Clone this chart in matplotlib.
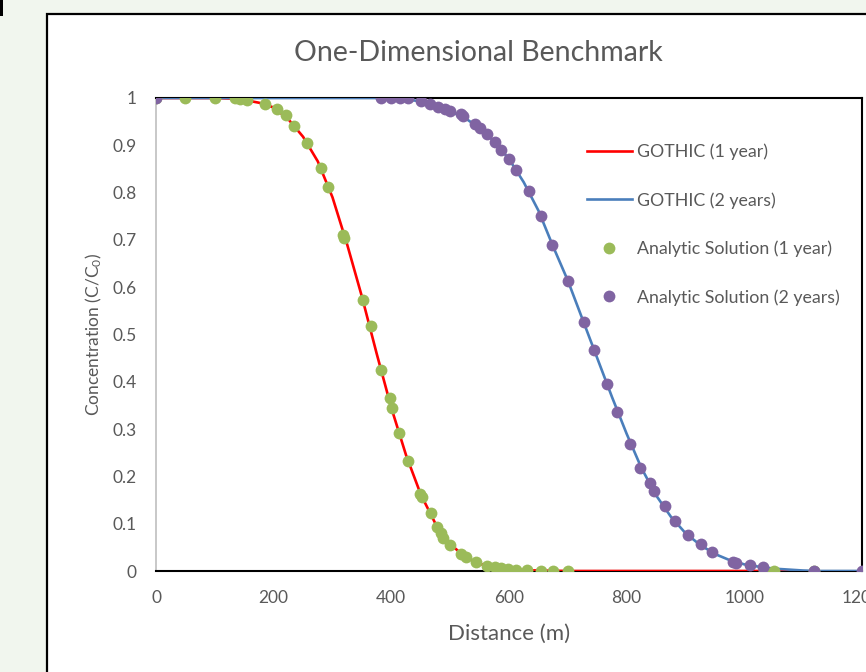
import matplotlib
matplotlib.use("Agg")
import matplotlib.pyplot as plt
from matplotlib.patches import Rectangle

plt.rcParams['font.family'] = ['Lato', 'DejaVu Sans']
plt.rcParams['mathtext.fontset'] = 'custom'
plt.rcParams['mathtext.rm'] = 'Lato'
plt.rcParams['mathtext.it'] = 'Lato'

# GOTHIC results (distance in m, C/C0)
gothic_1yr_x = [0, 50, 100, 125, 150, 175, 200, 225, 250, 275, 300, 325, 350, 375, 400,
                425, 450, 475, 500, 525, 550, 575, 600, 625, 650, 700, 800, 900, 1000, 1080]
gothic_1yr_c = [1.0, 1.0, 1.0, 0.999, 0.996, 0.99, 0.98, 0.955, 0.918, 0.866, 0.79, 0.69,
                0.58, 0.46, 0.345, 0.245, 0.162, 0.1, 0.057, 0.03, 0.015, 0.008, 0.004,
                0.002, 0.001, 0.0, 0.0, 0.0, 0.0, 0.0]

gothic_2yr_x = [0, 100, 200, 300, 375, 400, 425, 450, 475, 500, 525, 550, 575, 600, 625,
                650, 675, 700, 725, 750, 775, 800, 825, 850, 875, 900, 925, 950, 975,
                1000, 1025, 1050, 1075, 1100, 1125, 1200]
gothic_2yr_c = [1.0, 1.0, 1.0, 1.0, 1.0, 0.999, 0.997, 0.993, 0.983, 0.972, 0.958, 0.936,
                0.908, 0.871, 0.822, 0.762, 0.686, 0.614, 0.532, 0.45, 0.368, 0.29, 0.218,
                0.16, 0.115, 0.08, 0.055, 0.036, 0.023, 0.014, 0.009, 0.005, 0.003, 0.001,
                0.0, 0.0]

# analytic solution
analytic_1yr_x = [0, 50, 100, 134, 143, 154, 186, 205, 221, 234, 257, 281, 292, 318, 320,
                  351, 365, 383, 397, 401, 413, 428, 449, 452, 467, 478, 484, 488, 500,
                  519, 527, 544, 562, 576, 587, 598, 612, 631, 655, 675, 700, 1034, 1051,
                  1118]
analytic_1yr_c = [1.0, 1.0, 1.0, 1.0, 0.997, 0.996, 0.987, 0.977, 0.964, 0.941, 0.905,
                  0.853, 0.811, 0.71, 0.703, 0.573, 0.518, 0.424, 0.366, 0.345, 0.292,
                  0.233, 0.163, 0.157, 0.122, 0.092, 0.08, 0.069, 0.056, 0.035, 0.03,
                  0.018, 0.011, 0.008, 0.006, 0.004, 0.003, 0.002, 0.001, 0.0, 0.0, 0.0,
                  0.0, 0.0]

analytic_2yr_x = [0, 383, 400, 414, 428, 451, 465, 479, 491, 499, 519, 521, 542, 550, 562,
                  576, 587, 600, 612, 634, 655, 673, 700, 727, 744, 766, 784, 806, 823,
                  840, 847, 865, 883, 904, 926, 945, 980, 986, 1010, 1032, 1118, 1200]
analytic_2yr_c = [1.0, 1.0, 1.0, 1.0, 1.0, 0.994, 0.987, 0.982, 0.977, 0.973, 0.966, 0.962,
                  0.946, 0.937, 0.924, 0.908, 0.89, 0.871, 0.848, 0.804, 0.75, 0.689, 0.614,
                  0.527, 0.467, 0.395, 0.336, 0.268, 0.218, 0.186, 0.169, 0.137, 0.106,
                  0.077, 0.058, 0.04, 0.02, 0.016, 0.013, 0.009, 0.0, 0.0]

fig = plt.figure(figsize=(8.66, 6.72), dpi=100)
fig.patch.set_facecolor('#f1f6ee')

# chart panel
fig.add_artist(Rectangle((47 / 866, -0.05), 1.0, 1 - 14 / 672 + 0.05,
                         transform=fig.transFigure, facecolor='white',
                         edgecolor='black', linewidth=1.6, zorder=0))
fig.add_artist(Rectangle((0, 1 - 16 / 672), 3 / 866, 16 / 672,
                         transform=fig.transFigure, facecolor='black',
                         edgecolor='none', zorder=0))

ax = fig.add_axes([156 / 866, 1 - 571 / 672, 706 / 866, 473 / 672])
ax.set_facecolor('none')

ax.plot(gothic_1yr_x, gothic_1yr_c, color='#ff0000', linewidth=1.9,
        label='GOTHIC (1 year)', zorder=2)
ax.plot(gothic_2yr_x, gothic_2yr_c, color='#4a7ebb', linewidth=1.9,
        label='GOTHIC (2 years)', zorder=3)
ax.plot(analytic_1yr_x, analytic_1yr_c, linestyle='none', marker='o', markersize=8.5,
        color='#9bbb59', markeredgewidth=0, label='Analytic Solution (1 year)', zorder=4)
ax.plot(analytic_2yr_x, analytic_2yr_c, linestyle='none', marker='o', markersize=8.5,
        color='#8064a2', markeredgewidth=0, label='Analytic Solution (2 years)', zorder=5)

ax.set_xlim(0, 1200)
ax.set_ylim(0, 1)
ax.set_xticks(range(0, 1201, 200))
ax.set_yticks([i / 10 for i in range(11)])
ax.set_yticklabels(['0'] + [f'{i / 10:.1f}' for i in range(1, 10)] + ['1'])
ax.tick_params(length=0, labelsize=12.5, labelcolor='#595959', pad=14)
ax.tick_params(axis='y', pad=14)

for side in ['top', 'right', 'bottom']:
    ax.spines[side].set_color('black')
    ax.spines[side].set_linewidth(1.5)
ax.spines['left'].set_color('#bfbfbf')
ax.spines['left'].set_linewidth(1.2)
for s in ax.spines.values():
    s.set_zorder(1)

ax.set_xlabel('Distance (m)', fontsize=16, color='#595959')
ax.xaxis.set_label_coords(0.5, -0.112)
ax.set_ylabel('Concentration (C/C$_0$)', fontsize=12.5, color='#595959')
ax.yaxis.set_label_coords(-0.074, 0.5)
fig.text(478 / 866, 1 - 53 / 672, 'One-Dimensional Benchmark', fontsize=20.5,
         color='#595959', ha='center', va='center')

ax.legend(loc='upper left', bbox_to_anchor=(0.6, 0.919), frameon=False, fontsize=12.8,
          handlelength=2.55, handletextpad=0.3, labelspacing=1.8,
          labelcolor='#595959', borderaxespad=0)

fig.savefig('out.png', dpi=100, facecolor=fig.get_facecolor())
